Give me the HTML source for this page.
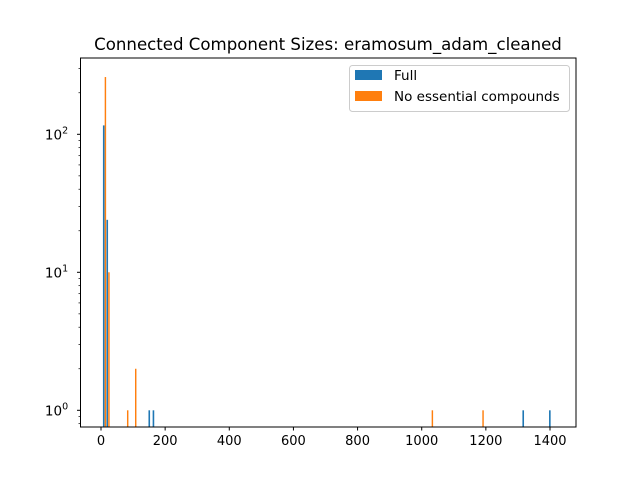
<!DOCTYPE html>
<html><head><meta charset="utf-8"><style>
body{margin:0;background:#fff}
svg{display:block;font-family:"DejaVu Sans","Liberation Sans",sans-serif}
</style></head><body>
<svg id="c" width="640" height="480" xmlns="http://www.w3.org/2000/svg">
<rect width="640" height="480" fill="#fff"/>
<text x="328" y="50" font-size="16.6" text-anchor="middle">Connected Component Sizes: eramosum_adam_cleaned</text>
<g id="marks"></g>
<g id="axes"></g>
</svg>
<script>
const xTicks=[0,200,400,600,800,1000,1200,1400];
const yTicks=[1,10,100];
const yTickLabels=["0","1","2"];
const fullLefts=[6,17,148,161,1314,1397];
const fullCounts=[116,24,1,1,1,1];
const fullWidth=5;
const noessLefts=[11.5,22.5,81,106,1031,1189];
const noessCounts=[260,10,1,2,1,1];
const noessWidth=4.5;

const L=80.5,R=576,T=58,B=427;
const X=v=>101+v*(550-101)/1400;
const Y=v=>410.3-Math.log10(v)*138;
const NS="http://www.w3.org/2000/svg";
const marks=document.getElementById('marks'),axes=document.getElementById('axes');
function mk(tag,attrs,parent){const e=document.createElementNS(NS,tag);for(const k in attrs)e.setAttribute(k,attrs[k]);parent.appendChild(e);return e;}
function bars(lefts,counts,w,color,name){
  lefts.forEach((l,i)=>{
    const x0=X(l),x1=X(l+w),y=Y(counts[i]);
    const r=mk('rect',{x:x0,y:y,width:Math.max(x1-x0,1),height:B-y,fill:color},marks);
    
    
  });
}
bars(fullLefts,fullCounts,fullWidth,'#1f77b4','full');
bars(noessLefts,noessCounts,noessWidth,'#ff7f0e','no-essential');
const frame=mk('rect',{x:L,y:T,width:R-L,height:B-T,fill:'none',stroke:'#000','stroke-width':1},axes);


xTicks.forEach(t=>{
  mk('line',{x1:X(t),x2:X(t),y1:B,y2:B+3.5,stroke:'#000'},axes);
  const tx=mk('text',{x:X(t),y:B+18,'font-size':13,'text-anchor':'middle'},axes);
  tx.textContent=t;
  
  
});
yTicks.forEach((t,i)=>{
  const y=Y(t);
  mk('line',{x1:L-3.5,x2:L,y1:y,y2:y,stroke:'#000'},axes);
  const tx=mk('text',{x:L-24,y:y+5,'font-size':13.5,'text-anchor':'middle'},axes);
  tx.textContent='10';
  const sp=mk('tspan',{dy:-6,'font-size':9.5},tx);sp.textContent=yTickLabels[i];
  
  
});
for(let d=-1;d<3;d++)for(let m=2;m<10;m++){const v=m*Math.pow(10,d);const y=Y(v);if(y<T||y>B)continue;mk('line',{x1:L-2,x2:L,y1:y,y2:y,stroke:'#000','stroke-width':0.7},axes);}
const lg=mk('g',{},axes);


mk('rect',{x:349.5,y:65.5,width:220,height:46,rx:3,fill:'#fff',stroke:'#ccc'},lg);
mk('rect',{x:355,y:70,width:27,height:10,fill:'#1f77b4'},lg);
mk('rect',{x:355,y:91,width:27,height:10,fill:'#ff7f0e'},lg);
const l1=mk('text',{x:394,y:80,'font-size':13.5},lg);l1.textContent='Full';


const l2=mk('text',{x:394,y:101,'font-size':13.5},lg);l2.textContent='No essential compounds';


</script>
</body></html>
